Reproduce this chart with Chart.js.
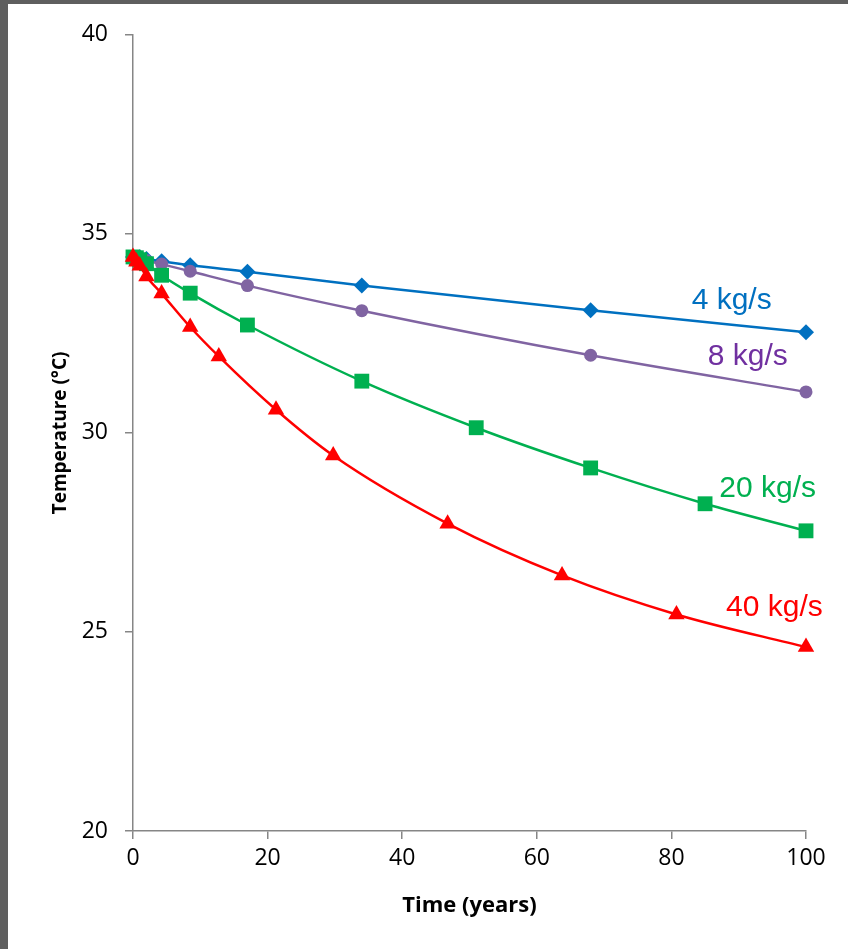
<!DOCTYPE html>
<html>
<head>
<meta charset="utf-8">
<script src="https://cdn.jsdelivr.net/npm/chart.js@4.4.1/dist/chart.umd.min.js"></script>
<style>
  html, body { margin: 0; padding: 0; background: #5f5f5f; width: 848px; height: 949px; overflow: hidden; }
  #wrap { position: absolute; left: 8px; top: 4px; width: 840px; height: 945px; background: #ffffff; }
  canvas { display: block; }
</style>
</head>
<body>
<div id="wrap"><canvas id="c" width="840" height="945"></canvas></div>
<script>
// ---- data ----
const xTicks = [0, 20, 40, 60, 80, 100];
const yTicks = [20, 25, 30, 35, 40];

const x4 = [0, 1, 2, 4.25, 8.5, 17, 34, 68, 100];
const y4 = [34.42, 34.41, 34.37, 34.31, 34.21, 34.05, 33.70, 33.08, 32.53];

const x8 = [0, 1, 2, 4.25, 8.5, 17, 34, 68, 100];
const y8 = [34.42, 34.38, 34.33, 34.24, 34.06, 33.70, 33.07, 31.95, 31.03];

const x20 = [0, 0.5, 1, 2, 4.25, 8.5, 17, 34, 51, 68, 85, 100];
const y20 = [34.42, 34.40, 34.35, 34.25, 33.96, 33.51, 32.71, 31.30, 30.13, 29.12, 28.22, 27.54];

const x40 = [0, 0.5, 1, 2, 4.25, 8.5, 12.75, 21.25, 29.75, 46.75, 63.75, 80.75, 100];
const y40 = [34.42, 34.30, 34.20, 33.93, 33.50, 32.66, 31.92, 30.58, 29.43, 27.72, 26.42, 25.44, 24.62];

const seriesLabels = ['4 kg/s', '8 kg/s', '20 kg/s', '40 kg/s'];
// label anchor (right edge, baseline) in data units
const labelX = [94.9, 97.3, 101.5, 102.5];
const labelY = [33.11, 31.70, 28.40, 25.41];

const pts = (xs, ys) => xs.map((x, i) => ({ x: x, y: ys[i] }));

const colors = {
  c4: '#0070C0', c8line: '#8064A2', c8text: '#7030A0', c20: '#00B050', c40: '#FF0000'
};

const labelPlugin = {
  id: 'seriesLabels',
  afterDatasetsDraw(chart) {
    const { ctx, scales: { x, y } } = chart;
    const cols = [colors.c4, colors.c8text, colors.c20, colors.c40];
    ctx.save();
    ctx.font = '30px "Liberation Sans", Arial, sans-serif';
    ctx.textAlign = 'right';
    ctx.textBaseline = 'alphabetic';
    seriesLabels.forEach((t, i) => {
      ctx.fillStyle = cols[i];
      ctx.fillText(t, x.getPixelForValue(labelX[i]), y.getPixelForValue(labelY[i]));
    });
    ctx.restore();
  }
};

const common = { borderWidth: 2.5, cubicInterpolationMode: 'monotone', clip: false, pointBorderWidth: 0 };

new Chart(document.getElementById('c'), {
  type: 'line',
  data: {
    datasets: [
      Object.assign({ label: seriesLabels[3], data: pts(x40, y40), borderColor: colors.c40, backgroundColor: colors.c40,
        pointStyle: 'triangle', pointRadius: 9.5 }, common),
      Object.assign({ label: seriesLabels[2], data: pts(x20, y20), borderColor: colors.c20, backgroundColor: colors.c20,
        pointStyle: 'rect', pointRadius: 10.5 }, common),
      Object.assign({ label: seriesLabels[1], data: pts(x8, y8), borderColor: colors.c8line, backgroundColor: colors.c8line,
        pointStyle: 'circle', pointRadius: 6.5 }, common),
      Object.assign({ label: seriesLabels[0], data: pts(x4, y4), borderColor: colors.c4, backgroundColor: colors.c4,
        pointStyle: 'rectRot', pointRadius: 8 }, common)
    ]
  },
  options: {
    responsive: false,
    animation: false,
    events: [],
    layout: { padding: { left: 0, right: 42, top: 29, bottom: 0 } },
    plugins: { legend: { display: false }, tooltip: { enabled: false } },
    scales: {
      x: {
        type: 'linear', min: 0, max: 100,
        afterBuildTicks: (s) => { s.ticks = xTicks.map(v => ({ value: v })); },
        afterFit: (s) => { s.height = 118; },
        grid: { display: true, drawOnChartArea: false, drawTicks: true, tickLength: 8, color: '#868686', lineWidth: 1.5 },
        border: { display: true, color: '#868686', width: 1.5 },
        ticks: { color: '#000', font: { family: '"Open Sans", sans-serif', size: 23 }, padding: 6, maxRotation: 0 },
        title: { display: true, text: 'Time (years)', color: '#000',
          font: { family: '"Open Sans", sans-serif', size: 22, weight: 'bold' }, padding: { top: 0, bottom: 30 } }
      },
      y: {
        type: 'linear', min: 20, max: 40,
        afterBuildTicks: (s) => { s.ticks = yTicks.map(v => ({ value: v })); },
        afterFit: (s) => { s.width = 125; },
        grid: { display: true, drawOnChartArea: false, drawTicks: true, tickLength: 8, color: '#868686', lineWidth: 1.5 },
        border: { display: true, color: '#868686', width: 1.5 },
        ticks: { color: '#000', font: { family: '"Open Sans", sans-serif', size: 23 }, padding: 17 },
        title: { display: true, text: 'Temperature (°C)', color: '#000',
          font: { family: '"Open Sans", sans-serif', size: 19, weight: 'bold' }, padding: { top: 41, bottom: 0 } }
      }
    }
  },
  plugins: [labelPlugin]
});
</script>
</body>
</html>
